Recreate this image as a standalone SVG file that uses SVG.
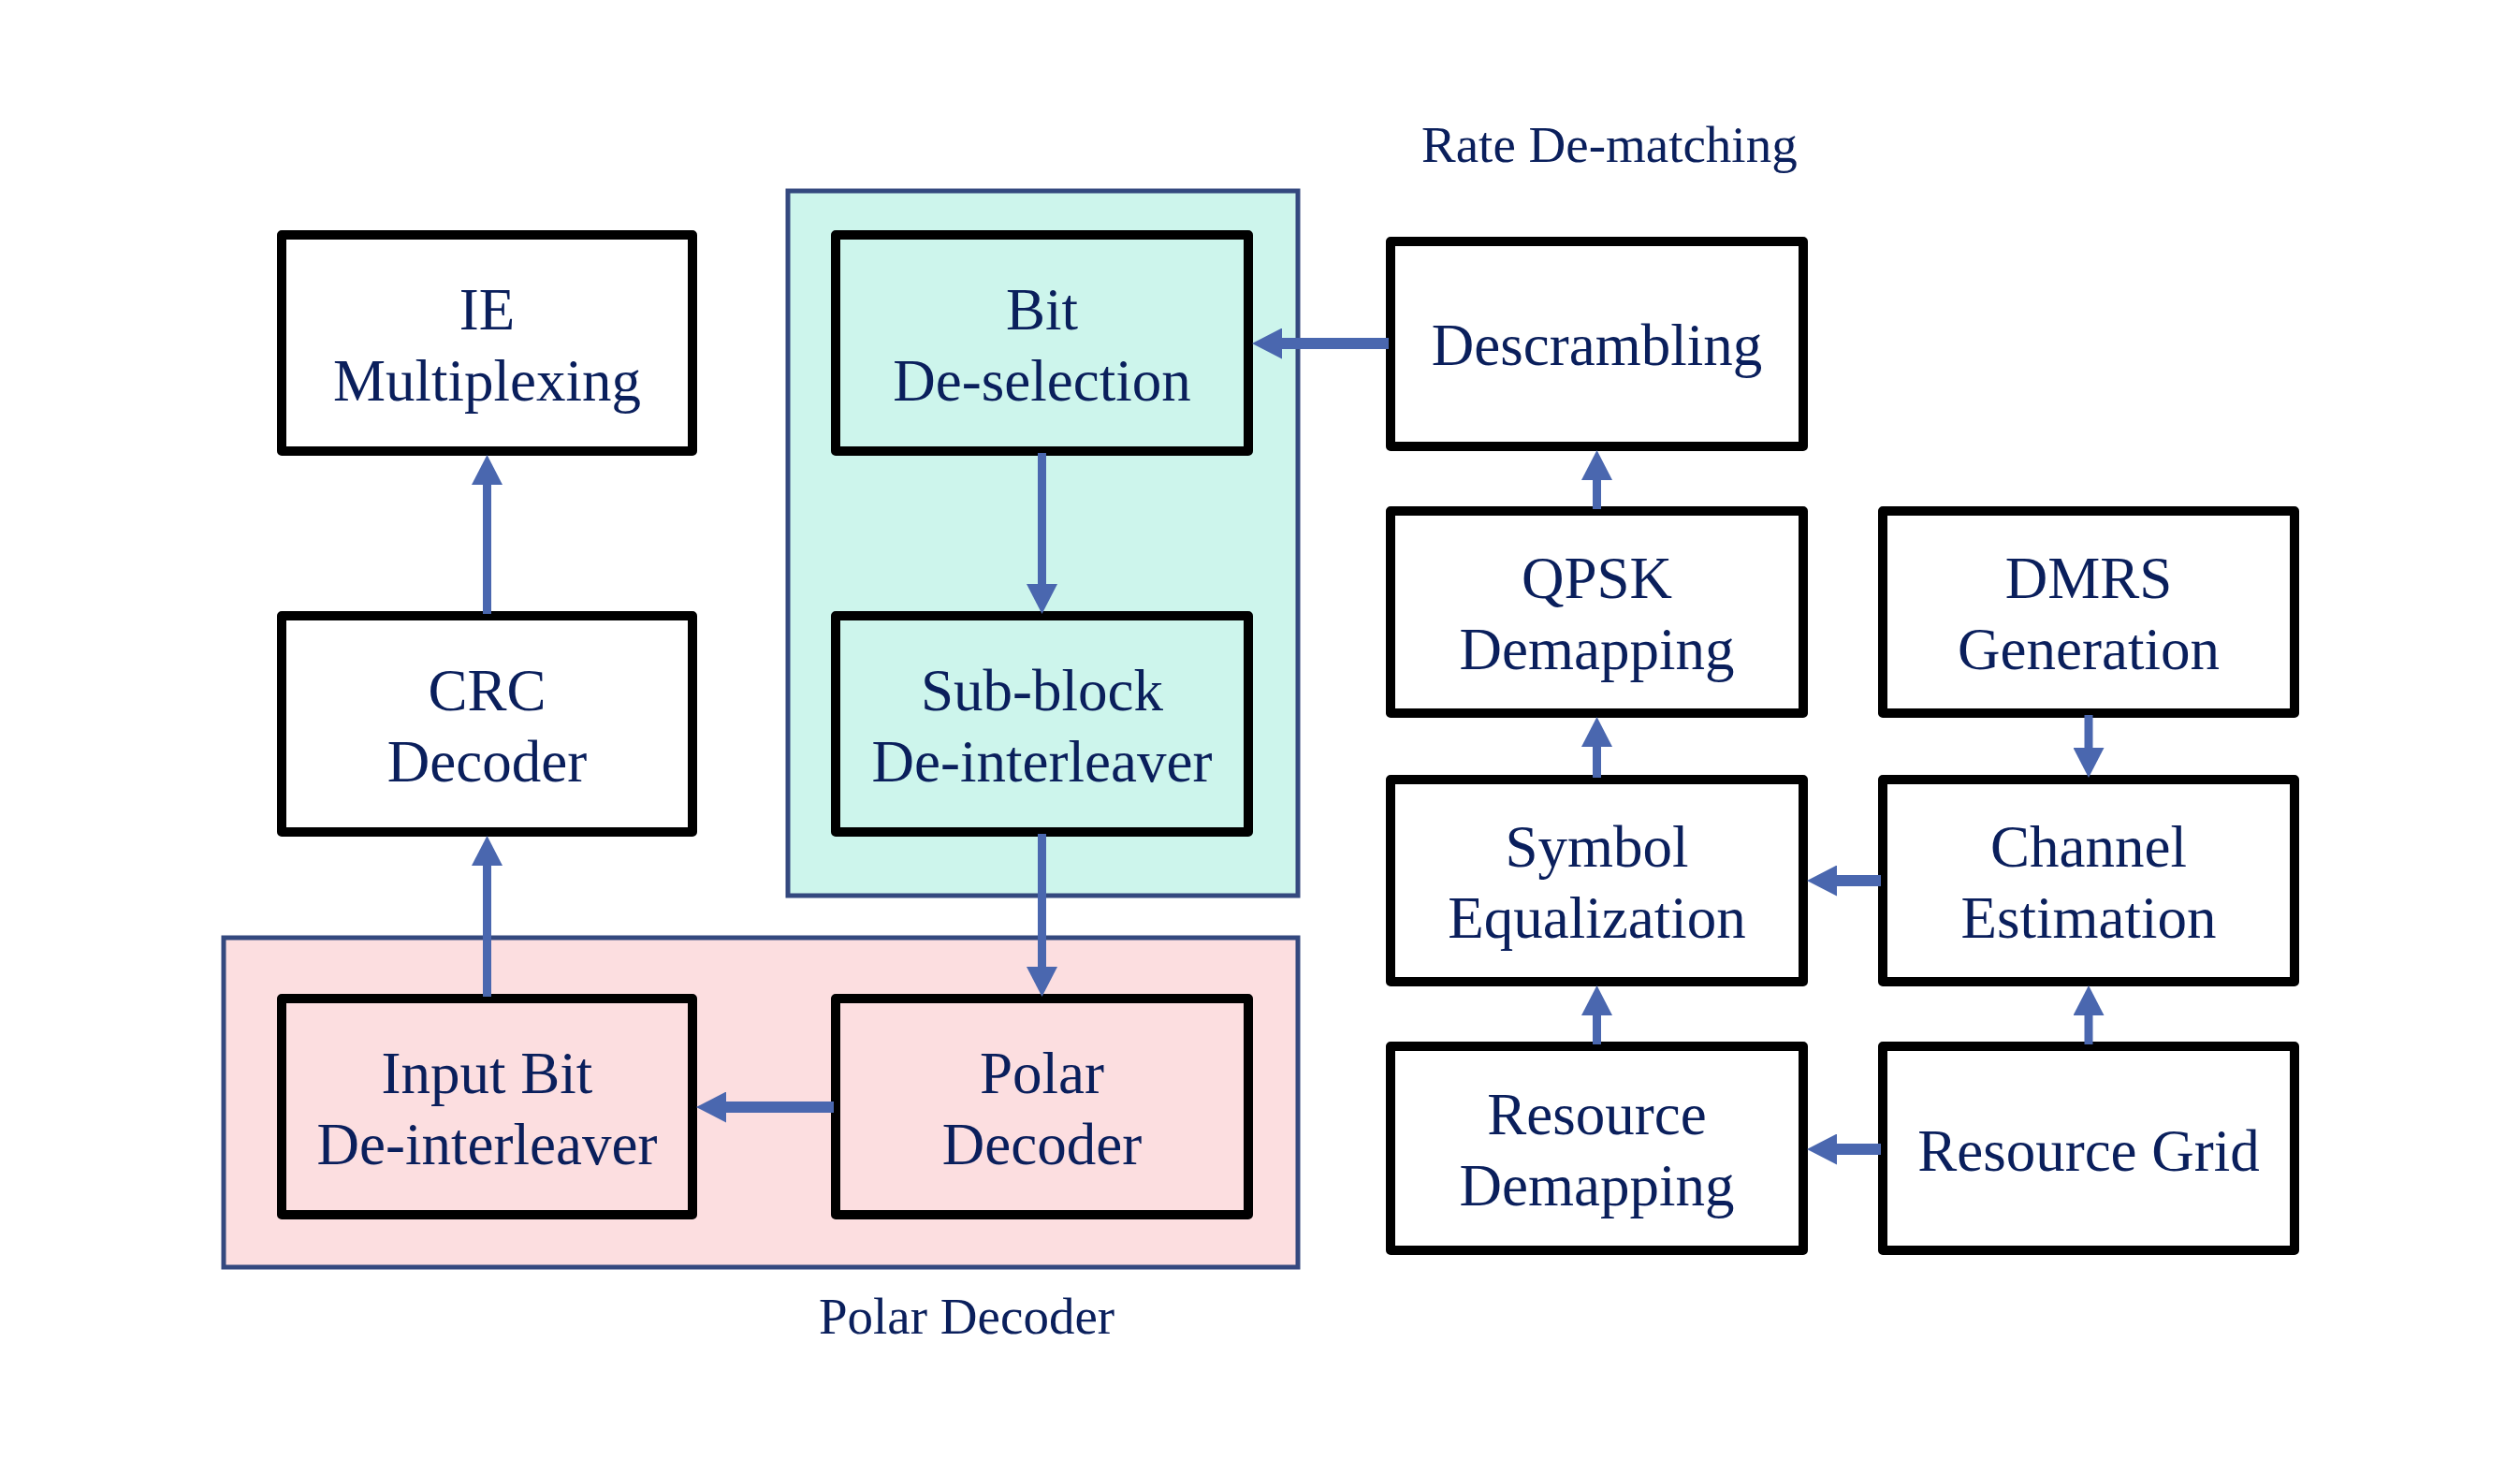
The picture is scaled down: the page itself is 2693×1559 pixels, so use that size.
<svg xmlns="http://www.w3.org/2000/svg" width="2693" height="1559" viewBox="0 0 2693 1559">
<style>
.box{stroke:#000;stroke-width:10;stroke-linejoin:round;fill:#fff}
.t{font-family:"Liberation Serif","Times New Roman",serif;font-size:63px;fill:#0A1F5C;text-anchor:middle}
.lbl{font-family:"Liberation Serif","Times New Roman",serif;font-size:55px;fill:#0A1F5C}
.cont{stroke:#34497F;stroke-width:5}
.c{stroke:#4A67AF;fill:none}
.v{stroke-width:9}
.h{stroke-width:12}
</style>
<defs>
<marker id="ah" markerUnits="userSpaceOnUse" viewBox="0 0 32 33" markerWidth="32" markerHeight="33" refX="0" refY="16.5" orient="auto">
<path d="M0,0 L32,16.5 L0,33 Z" fill="#4A67AF"/>
</marker>
</defs>
<rect width="2693" height="1559" fill="#fff"/>
<g id="rate-dematching-group">
<rect class="cont" x="842" y="204" width="545" height="753" fill="#CDF5EC"/>
<text class="lbl" x="1519" y="173">Rate De-matching</text>
</g>
<g id="polar-decoder-group">
<rect class="cont" x="239" y="1002" width="1148" height="352" fill="#FCDEE0"/>
<text class="lbl" x="875" y="1425">Polar Decoder</text>
</g>
<g id="ie-multiplexing"><rect class="box" x="301" y="251" width="439" height="231"/><text class="t" x="520.5" y="352">IE</text><text class="t" x="520.5" y="428">Multiplexing</text></g>
<g id="crc-decoder"><rect class="box" x="301" y="658" width="439" height="231"/><text class="t" x="520.5" y="759">CRC</text><text class="t" x="520.5" y="835">Decoder</text></g>
<g id="input-bit-deinterleaver"><rect class="box" x="301" y="1067" width="439" height="231" style="fill:#FCDEE0"/><text class="t" x="520.5" y="1168">Input Bit</text><text class="t" x="520.5" y="1244">De-interleaver</text></g>
<g id="bit-deselection"><rect class="box" x="893" y="251" width="441" height="231" style="fill:#CDF5EC"/><text class="t" x="1113.5" y="352">Bit</text><text class="t" x="1113.5" y="428">De-selection</text></g>
<g id="subblock-deinterleaver"><rect class="box" x="893" y="658" width="441" height="231" style="fill:#CDF5EC"/><text class="t" x="1113.5" y="759">Sub-block</text><text class="t" x="1113.5" y="835">De-interleaver</text></g>
<g id="polar-decoder"><rect class="box" x="893" y="1067" width="441" height="231" style="fill:#FCDEE0"/><text class="t" x="1113.5" y="1168">Polar</text><text class="t" x="1113.5" y="1244">Decoder</text></g>
<g id="descrambling"><rect class="box" x="1486" y="258" width="441" height="219"/><text class="t" x="1706.5" y="390">Descrambling</text></g>
<g id="qpsk-demapping"><rect class="box" x="1486" y="546" width="441" height="216"/><text class="t" x="1706.5" y="639">QPSK</text><text class="t" x="1706.5" y="715">Demapping</text></g>
<g id="symbol-equalization"><rect class="box" x="1486" y="833" width="441" height="216"/><text class="t" x="1706.5" y="926">Symbol</text><text class="t" x="1706.5" y="1002">Equalization</text></g>
<g id="resource-demapping"><rect class="box" x="1486" y="1118" width="441" height="218"/><text class="t" x="1706.5" y="1212">Resource</text><text class="t" x="1706.5" y="1288">Demapping</text></g>
<g id="dmrs-generation"><rect class="box" x="2012" y="546" width="440" height="216"/><text class="t" x="2232" y="639">DMRS</text><text class="t" x="2232" y="715">Generation</text></g>
<g id="channel-estimation"><rect class="box" x="2012" y="833" width="440" height="216"/><text class="t" x="2232" y="926">Channel</text><text class="t" x="2232" y="1002">Estimation</text></g>
<g id="resource-grid"><rect class="box" x="2012" y="1118" width="440" height="218"/><text class="t" x="2232" y="1251">Resource Grid</text></g>
<g id="connectors">
<line class="c v" x1="520.5" y1="656" x2="520.5" y2="518" marker-end="url(#ah)"/>
<line class="c v" x1="520.5" y1="1065" x2="520.5" y2="925" marker-end="url(#ah)"/>
<line class="c v" x1="1113.5" y1="484" x2="1113.5" y2="624" marker-end="url(#ah)"/>
<line class="c v" x1="1113.5" y1="891" x2="1113.5" y2="1033" marker-end="url(#ah)"/>
<line class="c h" x1="891" y1="1183" x2="776" y2="1183" marker-end="url(#ah)"/>
<line class="c h" x1="1484" y1="367" x2="1370" y2="367" marker-end="url(#ah)"/>
<line class="c v" x1="1706.5" y1="544" x2="1706.5" y2="513" marker-end="url(#ah)"/>
<line class="c v" x1="1706.5" y1="831" x2="1706.5" y2="798" marker-end="url(#ah)"/>
<line class="c v" x1="1706.5" y1="1116" x2="1706.5" y2="1085" marker-end="url(#ah)"/>
<line class="c v" x1="2232" y1="764" x2="2232" y2="799" marker-end="url(#ah)"/>
<line class="c v" x1="2232" y1="1116" x2="2232" y2="1085" marker-end="url(#ah)"/>
<line class="c h" x1="2010" y1="941" x2="1963" y2="941" marker-end="url(#ah)"/>
<line class="c h" x1="2010" y1="1228" x2="1963" y2="1228" marker-end="url(#ah)"/>
</g>
</svg>
